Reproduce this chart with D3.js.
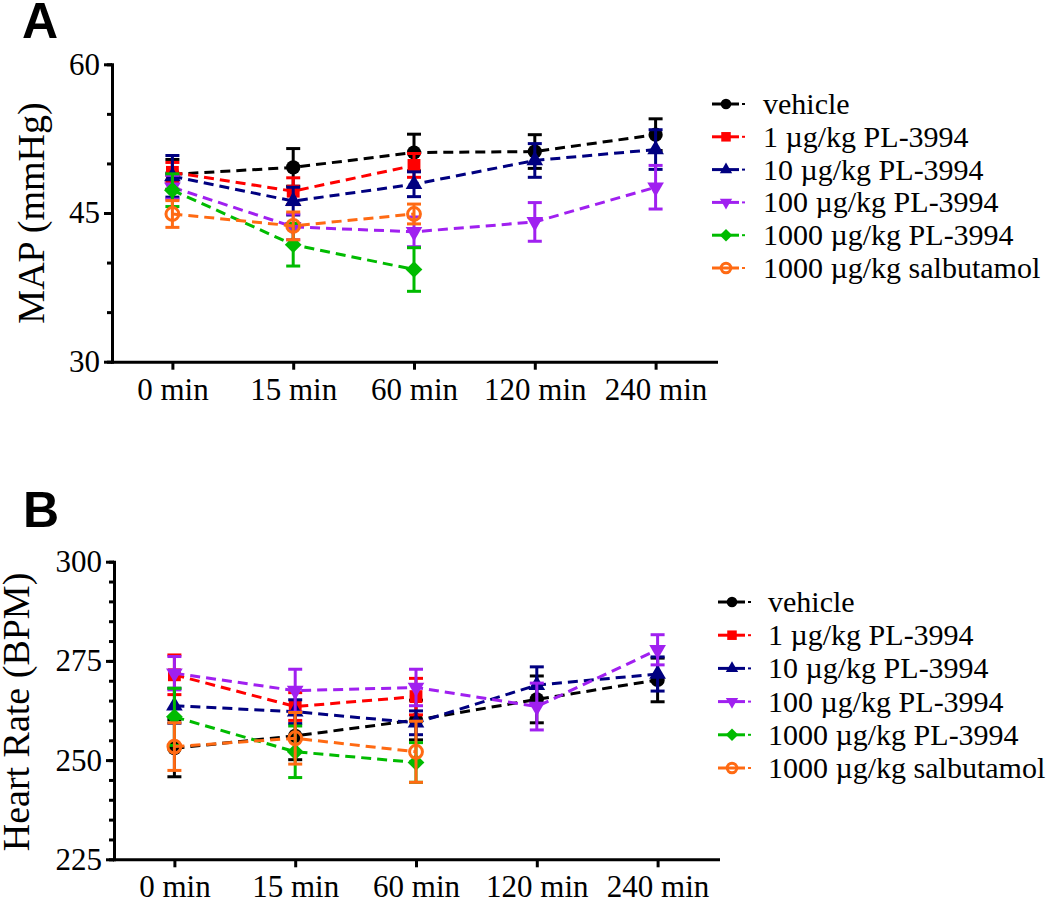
<!DOCTYPE html>
<html>
<head>
<meta charset="utf-8">
<script src="https://cdn.jsdelivr.net/npm/d3@7"></script>
<style>
  html, body { margin: 0; padding: 0; background: #fff; }
  svg text { font-family: "Liberation Serif", "Times New Roman", serif; fill: #000; }
</style>
</head>
<body>
<script>
// ---------- DATA ----------
const timepoints = ["0 min", "15 min", "60 min", "120 min", "240 min"];
const seriesNames = ["vehicle", "1 \u00b5g/kg PL-3994", "10 \u00b5g/kg PL-3994", "100 \u00b5g/kg PL-3994", "1000 \u00b5g/kg PL-3994", "1000 \u00b5g/kg salbutamol"];
const seriesColors = ["#000000", "#ff0000", "#000080", "#a020f0", "#00bb00", "#ff6a13"];
const seriesSymbols = ["circle", "square", "triangle", "triangleDown", "diamond", "openCircle"];

// Panel A: MAP (mmHg), mean and SEM
const mapVehicle = [48.9, 49.6, 51.1, 51.2, 52.9];
const mapVehicleErr = [1.5, 1.9, 1.85, 1.7, 1.6];
const map1 = [49.1, 47.2, 49.8, null, null];
const map1Err = [1.0, 1.35, 1.2, null, null];
const map10 = [48.7, 46.2, 47.9, 50.3, 51.4];
const map10Err = [2.1, 1.4, 1.25, 1.7, 2.0];
const map100 = [47.6, 43.6, 43.1, 44.1, 47.6];
const map100Err = [1.2, 1.3, 1.5, 1.95, 2.2];
const map1000 = [47.3, 41.8, 39.3, null, null];
const map1000Err = [1.65, 2.15, 2.2, null, null];
const mapSalb = [44.9, 43.7, 44.9, null, null];
const mapSalbErr = [1.35, 1.4, 1.0, null, null];
const mapTicks = [30, 45, 60];

// Panel B: Heart rate (BPM), mean and SEM
const hrVehicle = [253.0, 256.1, 260.1, 265.3, 270.2];
const hrVehicleErr = [7.2, 6.0, 5.0, 5.9, 5.5];
const hr1 = [271.5, 263.5, 266.0, null, null];
const hr1Err = [5.0, 3.5, 4.6, null, null];
const hr10 = [263.7, 262.2, 259.4, 268.9, 271.7];
const hr10Err = [4.4, 3.0, 3.0, 4.6, 4.3];
const hr100 = [271.9, 267.5, 268.3, 263.5, 277.8];
const hr100Err = [4.2, 5.4, 4.6, 5.9, 3.8];
const hr1000 = [260.9, 252.1, 249.4, null, null];
const hr1000Err = [7.2, 6.5, 5.0, null, null];
const hrSalb = [253.4, 255.5, 252.1, null, null];
const hrSalbErr = [6.0, 6.5, 7.7, null, null];
const hrTicks = [225, 250, 275, 300];

// ---------- DRAWING ----------
const svg = d3.select("body").append("svg").attr("width", 1050).attr("height", 899);

const panels = [
  {
    letter: "A", letterX: 22, letterY: 38,
    title: "MAP (mmHg)", titleX: 44, titleY: 213,
    left: 112, right: 716, top: 64.3, bottom: 361.7,
    domain: [30, 60], ticks: mapTicks, minorStep: 5,
    means: [mapVehicle, map1, map10, map100, map1000, mapSalb],
    errs: [mapVehicleErr, map1Err, map10Err, map100Err, map1000Err, mapSalbErr],
    legX: 712, legY: 104, legStep: 32.8, legTextX: 763
  },
  {
    letter: "B", letterX: 23, letterY: 527,
    title: "Heart Rate (BPM)", titleX: 29, titleY: 712,
    left: 114, right: 718, top: 561.7, bottom: 859.3,
    domain: [225, 300], ticks: hrTicks, minorStep: 5,
    means: [hrVehicle, hr1, hr10, hr100, hr1000, hrSalb],
    errs: [hrVehicleErr, hr1Err, hr10Err, hr100Err, hr1000Err, hrSalbErr],
    legX: 718, legY: 602, legStep: 33.2, legTextX: 768
  }
];

function symbolPath(kind, scale) {
  const s = scale || 1;
  switch (kind) {
    case "circle": return { d: d3.symbol(d3.symbolCircle, 160 * s)(), rot: 0, fill: true };
    case "openCircle": return { d: d3.symbol(d3.symbolCircle, 130 * s)(), rot: 0, fill: false };
    case "square": return { d: d3.symbol(d3.symbolSquare, 165 * s)(), rot: 0, fill: true };
    case "triangle": return { d: d3.symbol(d3.symbolTriangle, 120 * s)(), rot: 0, fill: true };
    case "triangleDown": return { d: d3.symbol(d3.symbolTriangle, 120 * s)(), rot: 180, fill: true };
    case "diamond": return { d: d3.symbol(d3.symbolSquare, 140 * s)(), rot: 45, fill: true };
  }
}

function drawMarker(g, kind, color, cx, cy, scale) {
  const sp = symbolPath(kind, scale);
  g.append("path")
    .attr("d", sp.d)
    .attr("transform", `translate(${cx},${cy}) rotate(${sp.rot})`)
    .attr("fill", sp.fill ? color : "none")
    .attr("stroke", sp.fill ? "none" : color)
    .attr("stroke-width", sp.fill ? 0 : 3);
}

panels.forEach(p => {
  const x = d3.scalePoint().domain(timepoints).range([p.left, p.right]).padding(0.5);
  const y = d3.scaleLinear().domain(p.domain).range([p.bottom, p.top]);

  // panel letter
  svg.append("text")
    .attr("x", p.letterX).attr("y", p.letterY)
    .style("font-family", "'Liberation Sans', Arial, sans-serif")
    .style("font-weight", "bold").style("font-size", "50px")
    .text(p.letter);

  // y title
  svg.append("text")
    .attr("transform", `translate(${p.titleX},${p.titleY}) rotate(-90)`)
    .attr("text-anchor", "middle")
    .style("font-size", "38px")
    .text(p.title);

  // minor y ticks
  const minorVals = d3.range(p.domain[0], p.domain[1] + 0.001, p.minorStep);
  const minorAxis = svg.append("g").attr("transform", `translate(${p.left},0)`)
    .call(d3.axisLeft(y).tickValues(minorVals).tickSize(5).tickSizeOuter(0).tickFormat(""));
  minorAxis.select(".domain").remove();
  minorAxis.selectAll(".tick line").attr("stroke-width", 3);

  // major y axis
  const yAxis = svg.append("g").attr("transform", `translate(${p.left},0)`)
    .call(d3.axisLeft(y).tickValues(p.ticks).tickSize(8).tickSizeOuter(0).tickPadding(4).tickFormat(d3.format("d")));
  yAxis.select(".domain").attr("stroke-width", 3).attr("stroke-linecap", "square");
  yAxis.selectAll(".tick line").attr("stroke-width", 3);
  yAxis.selectAll(".tick text").style("font-size", "31px").attr("font-family", null);

  // x axis
  const xAxis = svg.append("g").attr("transform", `translate(0,${p.bottom})`)
    .call(d3.axisBottom(x).tickSize(8).tickSizeOuter(0).tickPadding(8));
  xAxis.select(".domain").attr("stroke-width", 3).attr("stroke-linecap", "square");
  xAxis.selectAll(".tick line").attr("stroke-width", 3);
  xAxis.selectAll(".tick text").style("font-size", "31px").attr("font-family", null);

  // series
  seriesNames.forEach((name, si) => {
    const color = seriesColors[si];
    const pts = timepoints.map((t, i) => ({ t, v: p.means[si][i], e: p.errs[si][i] }))
      .filter(d => d.v !== null);
    const g = svg.append("g");
    g.append("path")
      .datum(pts)
      .attr("d", d3.line().x(d => x(d.t)).y(d => y(d.v)))
      .attr("fill", "none").attr("stroke", color)
      .attr("stroke-width", 3).attr("stroke-dasharray", "10,6");
    pts.forEach(d => {
      const cx = x(d.t);
      const y1 = y(d.v + d.e), y2 = y(d.v - d.e);
      g.append("line").attr("x1", cx).attr("x2", cx).attr("y1", y1).attr("y2", y2)
        .attr("stroke", color).attr("stroke-width", 3);
      [y1, y2].forEach(yy => {
        g.append("line").attr("x1", cx - 7).attr("x2", cx + 7).attr("y1", yy).attr("y2", yy)
          .attr("stroke", color).attr("stroke-width", 3);
      });
      drawMarker(g, seriesSymbols[si], color, cx, y(d.v), 1);
    });

    // legend
    const ly = p.legY + si * p.legStep;
    const lg = svg.append("g");
    lg.append("line").attr("x1", p.legX).attr("x2", p.legX + 27).attr("y1", ly).attr("y2", ly)
      .attr("stroke", color).attr("stroke-width", 3);
    lg.append("line").attr("x1", p.legX + 30).attr("x2", p.legX + 33).attr("y1", ly).attr("y2", ly)
      .attr("stroke", color).attr("stroke-width", 2);
    drawMarker(lg, seriesSymbols[si], color, p.legX + 14, ly, 0.55);
    lg.append("text").attr("x", p.legTextX).attr("y", ly).attr("dy", "0.33em")
      .style("font-size", "30px").text(name);
  });
});
</script>
</body>
</html>
